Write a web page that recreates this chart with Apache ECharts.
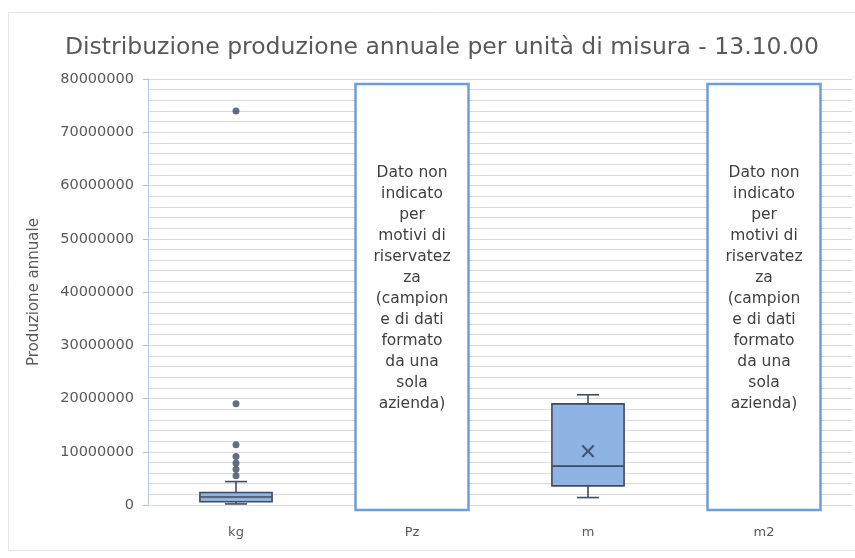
<!DOCTYPE html>
<html>
<head>
<meta charset="utf-8">
<script src="https://cdn.jsdelivr.net/npm/echarts@6/dist/echarts.min.js"></script>
<style>
  html, body { margin: 0; padding: 0; background: #ffffff; }
  #chart { width: 855px; height: 558px; }
</style>
</head>
<body>
<div id="chart"></div>
<script>
// Units of measure on the category axis
const categories = ['kg', 'Pz', 'm', 'm2'];
// Five-number summaries: [min, Q1, median, Q3, max]
const boxKg = [200000, 600000, 1500000, 2350000, 4400000];
const boxM = [1400000, 3600000, 7300000, 19000000, 20700000];
// Mean marker for the "m" group
const meanM = 10100000;
// Outlying values for the "kg" group
const outliersKg = [74000000, 19000000, 11300000, 9100000, 7900000, 6700000, 5500000];
// Categories whose values are withheld
const hiddenCats = ['Pz', 'm2'];
const hiddenNote = 'Dato non\nindicato\nper\nmotivi di\nriservatez\nza\n(campion\ne di dati\nformato\nda una\nsola\nazienda)';
// Y axis range and ticks
const yMin = 0, yMax = 80000000, yStep = 10000000;

const FONT = 'DejaVu Sans';
const TXT = '#595959';

const boxData = [
  [categories.indexOf('kg')].concat(boxKg),
  [categories.indexOf('m')].concat(boxM)
];

const chart = echarts.init(document.getElementById('chart'), null, { renderer: 'canvas' });

chart.setOption({
  backgroundColor: '#ffffff',
  animation: false,
  title: {
    text: 'Distribuzione produzione annuale per unità di misura - 13.10.00',
    left: 60,
    top: 31,
    textStyle: { fontFamily: FONT, fontSize: 23.5, fontWeight: 'normal', color: TXT }
  },
  graphic: [{
    type: 'rect', silent: true, z: -1,
    shape: { x: 8.5, y: 12.5, width: 860, height: 538 },
    style: { fill: 'none', stroke: '#e6e6e6', lineWidth: 1 }
  }],
  grid: { left: 148, right: 3, top: 79, bottom: 53 },
  xAxis: {
    type: 'category',
    data: categories,
    axisLine: { show: false },
    axisTick: { show: false },
    axisLabel: { fontFamily: FONT, fontSize: 13, color: TXT, margin: 21 },
    splitLine: { show: false }
  },
  yAxis: {
    type: 'value',
    min: yMin, max: yMax, interval: yStep,
    name: 'Produzione annuale',
    nameLocation: 'middle',
    nameGap: 106,
    nameTextStyle: { fontFamily: FONT, fontSize: 15, color: TXT },
    axisLine: { show: true, lineStyle: { color: '#b4c7e7', width: 1 } },
    axisTick: { show: true, inside: false, length: 5, lineStyle: { color: '#bfbfbf' } },
    axisLabel: {
      fontFamily: FONT, fontSize: 14.5, color: TXT, margin: 14,
      formatter: function (v) { return String(v); }
    },
    splitLine: { show: true, lineStyle: { color: '#d9d9d9', width: 1 } },
    minorTick: { show: false, splitNumber: 5 },
    minorSplitLine: { show: true, lineStyle: { color: '#d9d9d9', width: 1 } }
  },
  series: [
    {
      // Box-and-whisker glyphs
      type: 'custom',
      data: boxData,
      encode: { x: 0, y: [1, 2, 3, 4, 5] },
      z: 3,
      renderItem: function (params, api) {
        const cat = api.value(0);
        const p = function (v) { return api.coord([cat, v]); };
        const pMin = p(api.value(1)), pQ1 = p(api.value(2)), pMed = p(api.value(3)),
              pQ3 = p(api.value(4)), pMax = p(api.value(5));
        const band = api.size([1, 0])[0];
        const bw = band * 0.41;
        const cap = 11;
        const x = pMed[0];
        const lineStyle = { stroke: '#404a5c', lineWidth: 1.6, fill: null };
        return {
          type: 'group',
          children: [
            { type: 'line', shape: { x1: x, y1: pMax[1], x2: x, y2: pQ3[1] }, style: lineStyle },
            { type: 'line', shape: { x1: x, y1: pQ1[1], x2: x, y2: pMin[1] }, style: lineStyle },
            { type: 'line', shape: { x1: x - cap, y1: pMax[1], x2: x + cap, y2: pMax[1] }, style: lineStyle },
            { type: 'line', shape: { x1: x - cap, y1: pMin[1], x2: x + cap, y2: pMin[1] }, style: lineStyle },
            { type: 'rect', shape: { x: x - bw / 2, y: pQ3[1], width: bw, height: pQ1[1] - pQ3[1] },
              style: { fill: '#8eb4e3', stroke: '#404a5c', lineWidth: 1.6 } },
            { type: 'line', shape: { x1: x - bw / 2, y1: pMed[1], x2: x + bw / 2, y2: pMed[1] }, style: lineStyle }
          ]
        };
      }
    },
    {
      // Outliers
      type: 'scatter',
      data: outliersKg.map(function (v) { return ['kg', v]; }),
      symbol: 'circle',
      symbolSize: 7,
      itemStyle: { color: '#3d4a60' },
      z: 4
    },
    {
      // Mean marker
      type: 'scatter',
      data: [['m', meanM]],
      symbol: 'path://M0,1.2L1.2,0L5,3.8L8.8,0L10,1.2L6.2,5L10,8.8L8.8,10L5,6.2L1.2,10L0,8.8L3.8,5Z',
      symbolSize: 13,
      itemStyle: { color: '#2f3e57' },
      z: 5
    },
    {
      // Notes for withheld categories
      type: 'custom',
      data: hiddenCats.map(function (c) { return [categories.indexOf(c)]; }),
      encode: { x: 0 },
      z: 6,
      renderItem: function (params, api) {
        const cat = api.value(0);
        const top = api.coord([cat, yMax]);
        const bottom = api.coord([cat, yMin]);
        const w = 113;
        const x = top[0];
        const y0 = top[1] + 5, y1 = bottom[1] + 5;
        return {
          type: 'group',
          children: [
            { type: 'rect', shape: { x: x - w / 2, y: y0, width: w, height: y1 - y0 },
              style: { fill: '#ffffff', stroke: '#6d9fd6', lineWidth: 2.5 } },
            { type: 'text',
              style: { text: hiddenNote, x: x, y: (y0 + y1) / 2 - 9, align: 'center', verticalAlign: 'middle',
                       fontFamily: FONT, fontSize: 15.5, lineHeight: 21, fill: '#404040' } }
          ]
        };
      }
    }
  ]
});
</script>
</body>
</html>
